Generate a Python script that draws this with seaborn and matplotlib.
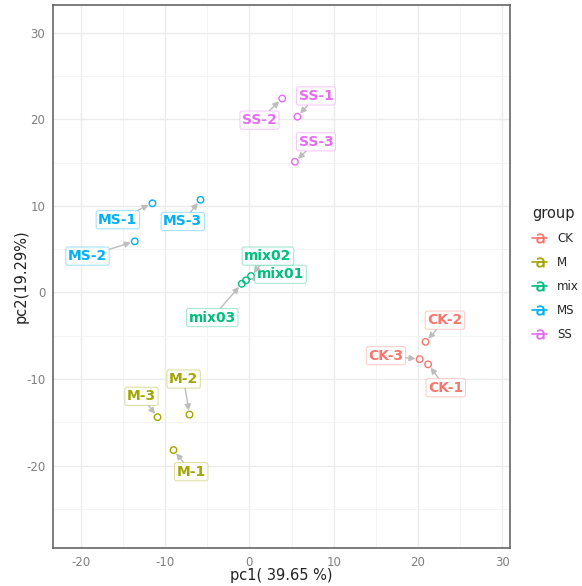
import matplotlib
matplotlib.use("Agg")
import matplotlib.pyplot as plt
import seaborn as sns
import pandas as pd
from matplotlib.lines import Line2D
import matplotlib.colors as mcolors

samples = ["CK-1", "CK-2", "CK-3", "M-1", "M-2", "M-3", "mix01", "mix02", "mix03",
           "MS-1", "MS-2", "MS-3", "SS-1", "SS-2", "SS-3"]
groups = ["CK", "CK", "CK", "M", "M", "M", "mix", "mix", "mix",
          "MS", "MS", "MS", "SS", "SS", "SS"]
pc1 = [21.2, 20.9, 20.2, -9.0, -7.1, -10.9, -0.4, 0.2, -0.9,
       -11.5, -13.6, -5.8, 5.7, 3.9, 5.4]
pc2 = [-8.3, -5.7, -7.7, -18.2, -14.1, -14.4, 1.4, 1.9, 1.0,
       10.3, 5.9, 10.7, 20.3, 22.4, 15.1]
label_x = [23.3, 23.2, 16.2, -6.9, -7.8, -12.8, 3.7, 2.2, -4.4,
           -15.6, -19.2, -7.9, 7.9, 1.2, 7.9]
label_y = [-11.0, -3.2, -7.3, -20.7, -10.0, -12.0, 2.1, 4.2, -2.9,
           8.4, 4.2, 8.2, 22.7, 19.9, 17.4]
group_order = ["CK", "M", "mix", "MS", "SS"]
group_colors = ["#F8766D", "#A3A500", "#00BF7D", "#00B0F6", "#E76BF3"]
x_ticks = [-20, -10, 0, 10, 20, 30]
y_ticks = [-20, -10, 0, 10, 20, 30]

df = pd.DataFrame({"sample": samples, "group": groups, "pc1": pc1, "pc2": pc2})
palette = dict(zip(group_order, group_colors))

sns.set_style("white")
plt.rcParams["axes.unicode_minus"] = False
fig = plt.figure(figsize=(5.82, 5.86), dpi=100)
ax = fig.add_axes([0.091, 0.065, 0.785, 0.9265])

sns.scatterplot(data=df, x="pc1", y="pc2", hue="group", hue_order=group_order,
                palette=palette, s=22, linewidth=1.0, legend=False, ax=ax, zorder=3)
coll = ax.collections[0]
fc = coll.get_facecolors()
coll.set_edgecolors(fc)
coll.set_facecolors("none")

for s, g, x, y, lx, ly in zip(samples, groups, pc1, pc2, label_x, label_y):
    c = palette[g]
    ec = mcolors.to_rgba(c, 0.35)
    ax.annotate(s, xy=(x, y), xytext=(lx, ly), ha="center", va="center",
                fontsize=10, fontweight="bold", color=c, zorder=4,
                bbox=dict(boxstyle="round,pad=0.15", fc="white", ec=ec, lw=0.8),
                arrowprops=dict(arrowstyle="-|>,head_length=0.35,head_width=0.18",
                                color="#BDBDBD", lw=1.0, shrinkA=0, shrinkB=3))

ax.set_xlim(-23.3, 30.9)
ax.set_ylim(-29.5, 33.2)
ax.set_xticks(x_ticks)
ax.set_yticks(y_ticks)
ax.set_xticks([-15, -5, 5, 15, 25], minor=True)
ax.set_yticks([-25, -15, -5, 5, 15, 25], minor=True)
ax.grid(True, which="major", color="#EBEBEB", lw=1.0, zorder=0)
ax.grid(True, which="minor", color="#F2F2F2", lw=0.6, zorder=0)
ax.set_axisbelow(True)
for sp in ax.spines.values():
    sp.set_color("#666666")
    sp.set_linewidth(1.2)
ax.tick_params(axis="both", which="major", direction="out", length=3.5, width=0.9,
               color="#666666", labelcolor="#7F7F7F", labelsize=8.5, pad=2)
ax.tick_params(axis="both", which="minor", length=0)
ax.set_xlabel("pc1( 39.65 %)", fontsize=10.5, color="#222222")
ax.set_ylabel("pc2(19.29%)", fontsize=10.5, color="#222222")
ax.xaxis.set_label_coords(0.5, -0.037)
ax.yaxis.set_label_coords(-0.053, 0.5)

handles = [Line2D([0], [0], color=c, lw=1.2, marker=r"$\mathsf{a}$", markersize=7,
                  markeredgewidth=0.3) for c in group_colors]
fig.legend(handles, group_order, title="group", loc="upper left",
           bbox_to_anchor=(0.896, 0.667), frameon=False, fontsize=8.5,
           title_fontsize=10.5, handlelength=1.3, handletextpad=0.8,
           labelspacing=0.93, alignment="left")

fig.savefig("out.png", dpi=100)
